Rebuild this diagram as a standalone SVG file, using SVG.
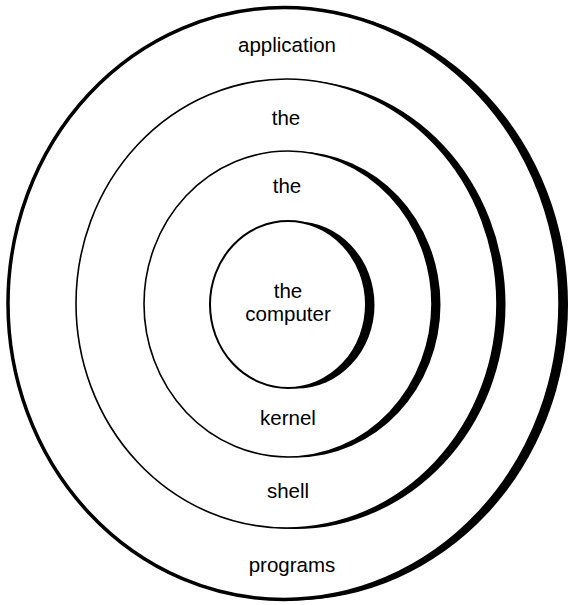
<svg xmlns="http://www.w3.org/2000/svg" width="569" height="605" viewBox="0 0 569 605">
<style>
.shadow{fill:#000;stroke:none}
.ring{fill:#fff;stroke:#000}
.lbl{font-family:"Liberation Sans",Arial,Helvetica,sans-serif;font-size:20.5px;fill:#000;text-anchor:middle}
</style>
<rect width="569" height="605" fill="#fff"/>
<g id="application-programs">
<ellipse class="shadow" cx="292" cy="304.5" rx="276" ry="296"/>
<ellipse class="ring" cx="284" cy="303.5" rx="276" ry="296" stroke-width="3.5"/>
<text class="lbl" x="287" y="52">application</text>
<text class="lbl" x="292" y="572">programs</text>
</g>
<g id="shell">
<ellipse class="shadow" cx="295" cy="304.5" rx="210.5" ry="224.5"/>
<ellipse class="ring" cx="286.5" cy="303.5" rx="210.5" ry="224.5" stroke-width="1.6"/>
<text class="lbl" x="286" y="125">the</text>
<text class="lbl" x="288" y="498">shell</text>
</g>
<g id="kernel">
<ellipse class="shadow" cx="296.5" cy="304.5" rx="144" ry="153"/>
<ellipse class="ring" cx="288" cy="304" rx="144" ry="153" stroke-width="1.6"/>
<text class="lbl" x="287" y="193">the</text>
<text class="lbl" x="288" y="425">kernel</text>
</g>
<g id="computer">
<ellipse class="shadow" cx="296.5" cy="305" rx="78" ry="83.5"/>
<ellipse class="ring" cx="288" cy="304.5" rx="78" ry="83.5" stroke-width="2"/>
<text class="lbl" x="288" y="298">the</text>
<text class="lbl" x="288" y="321">computer</text>
</g>
<g id="connectors"/>
</svg>
